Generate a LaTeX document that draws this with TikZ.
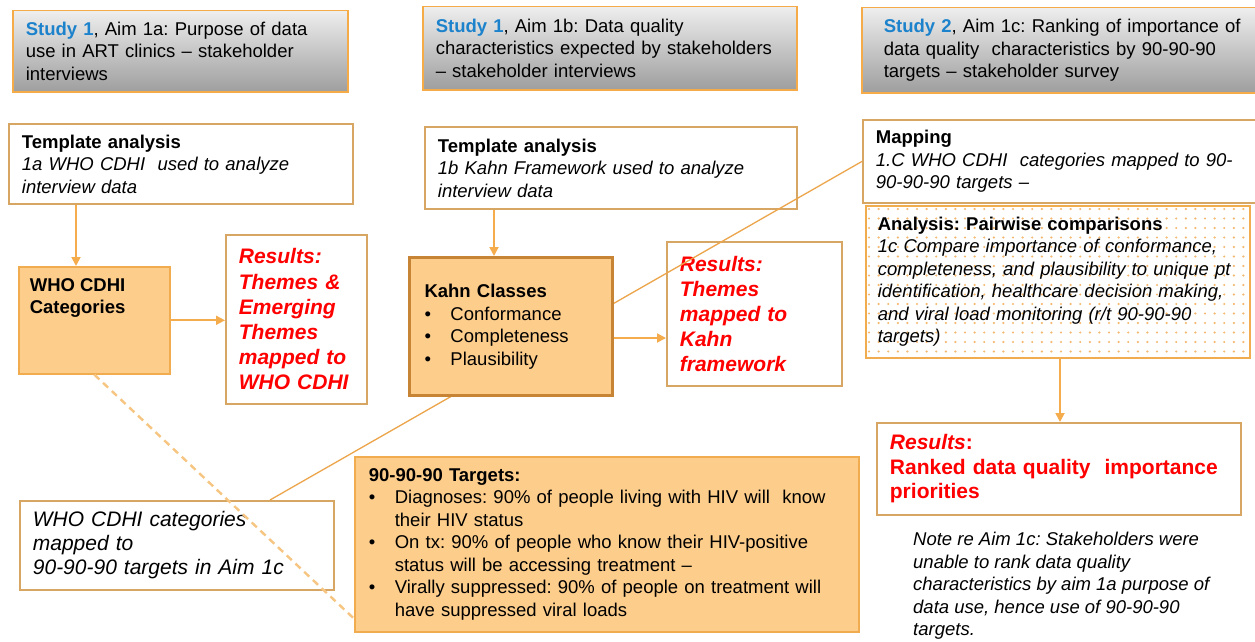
\documentclass[tikz,border=0pt]{standalone}
\usepackage{fontspec}
\setmainfont{Liberation Sans}
\usetikzlibrary{arrows.meta}

\definecolor{hdline}{RGB}{245,172,72}
\definecolor{hdtop}{RGB}{238,238,238}
\definecolor{hdbot}{RGB}{158,158,158}
\definecolor{boxtan}{RGB}{214,166,98}
\definecolor{catline}{RGB}{242,172,80}
\definecolor{catfill}{RGB}{253,205,140}
\definecolor{kahnline}{RGB}{198,132,52}
\definecolor{arrorange}{RGB}{244,172,76}
\definecolor{dotorange}{RGB}{244,184,110}
\definecolor{studyblue}{RGB}{28,130,204}
\definecolor{resred}{RGB}{255,0,0}

% bullets with a fixed indent
\newcommand{\bull}{\makebox[26pt][l]{\textbullet}}
\newcommand{\bullgap}{\hspace*{26pt}}

\frenchspacing

\begin{document}
\begin{tikzpicture}[x=1pt, y=-1pt,
  box/.style={anchor=north west, align=left, inner xsep=13pt, inner ysep=3pt,
    font=\fontsize{18.5}{22.5}\selectfont},
  header/.style={box, draw=hdline, line width=1.5pt, top color=hdtop, bottom color=hdbot},
  whitebox/.style={box, draw=boxtan, line width=1.8pt, fill=white},
  catbox/.style={box, draw=catline, line width=1.6pt, fill=catfill},
  resbox/.style={whitebox, text=resred, font=\fontsize{21}{25.2}\selectfont\bfseries\itshape},
  flow/.style={draw=arrorange, line width=1.8pt, -{Triangle[length=9pt, width=9pt]}},
  link/.style={draw=arrorange!85!brown, line width=1.3pt},
  cdhidash/.style={draw=arrorange!70, line width=2.4pt, dash pattern=on 7pt off 5pt},
]
  \useasboundingbox (0,0) rectangle (1255,642);
  \fill[white] (0,0) rectangle (1255,642);

  % headers
  \node[header, text width=309pt, minimum height=81pt] (headA) at (12,10)
    {\textcolor{studyblue}{\bfseries Study 1}, Aim 1a: Purpose of data\\use in ART clinics – stakeholder\\interviews};
  \node[header, text width=348pt, minimum height=83pt] (headB) at (422,6)
    {\textcolor{studyblue}{\bfseries Study 1}, Aim 1b: Data quality\\characteristics expected by stakeholders\\– stakeholder interviews};
  \node[header, inner xsep=22pt, text width=366pt, minimum height=85pt] (headC) at (861,7)
    {\textcolor{studyblue}{\bfseries Study 2}, Aim 1c: Ranking of importance of\\data quality~ characteristics by 90-90-90\\targets – stakeholder survey};

  % aim 1a
  \node[whitebox, text width=318pt, minimum height=80pt] (tmplA) at (8,123)
    {\textbf{Template analysis}\\\textit{1a WHO CDHI~ used to analyze}\\\textit{interview data}};
  \node[catbox, inner xsep=11pt, minimum width=151pt, minimum height=107pt] (who) at (18,266)
    {\parbox[t][84pt][t]{129pt}{\bfseries WHO CDHI\\Categories}};
  \node[resbox, text width=115pt, minimum height=169pt] (resA) at (225,234)
    {Results:\\Themes \&\\Emerging\\Themes\\mapped to\\WHO CDHI};

  % aim 1b
  \node[whitebox, text width=346pt, minimum height=82pt] (tmplB) at (424,126)
    {\textbf{Template analysis}\\\textit{1b Kahn Framework used to analyze}\\\textit{interview data}};
  \node[resbox, text width=149pt, minimum height=144pt] (resB) at (666,241)
    {Results:\\Themes\\mapped to\\Kahn\\framework};

  % aim 1c
  \node[whitebox, text width=374pt, minimum height=83pt] (mapping) at (862,119)
    {\textbf{Mapping}\\\textit{1.C WHO CDHI~ categories mapped to 90-}\\\textit{90-90-90 targets –}};
  % dotted fill behind the pairwise box
  \fill[white] (865,205) rectangle (1249,357);
  \foreach \dx in {0,...,39}
    \foreach \dy in {0,...,15}
      \fill[dotorange] (869+\dx*9.6, 209+\dy*9.5) circle (1.2pt);
  \node[box, draw=catline, line width=1.6pt, inner xsep=12pt,
    text width=360pt, minimum height=152pt] (analysis) at (865,205)
    {\textbf{Analysis: Pairwise comparisons}\\\itshape 1c Compare importance of conformance,\\completeness, and plausibility to unique pt\\identification, healthcare decision making,\\and viral load monitoring (r/t 90-90-90\\targets)};
  \node[whitebox, text=resred, font=\fontsize{21}{24.5}\selectfont\bfseries,
    text width=338pt, minimum height=92pt] (resC) at (876,422)
    {\textit{Results}:\\Ranked data quality~ importance\\priorities};
  \node[anchor=north west, align=left, inner sep=0pt,
    font=\fontsize{18.5}{22.5}\selectfont\itshape] (note) at (913,532)
    {Note re Aim 1c: Stakeholders were\\unable to rank data quality\\characteristics by aim 1a purpose of\\data use, hence use of 90-90-90\\targets.};

  % 90-90-90 targets
  \node[whitebox, font=\fontsize{21}{24}\selectfont\itshape,
    text width=288pt, minimum height=89pt] (cdhimap) at (19,500)
    {WHO CDHI categories\\mapped to\\90-90-90 targets in Aim 1c};
  \node[catbox, inner xsep=14pt, text width=476pt, minimum height=175pt] (targets) at (354,456)
    {\textbf{90-90-90 Targets:}\\
     \bull Diagnoses: 90\% of people living with HIV will~ know\\
     \bullgap their HIV status\\
     \bull On tx: 90\% of people who know their HIV-positive\\
     \bullgap status will be accessing treatment –\\
     \bull Virally suppressed: 90\% of people on treatment will\\
     \bullgap have suppressed viral loads};

  % arrows
  \coordinate (ta) at ([xshift=68pt]tmplA.south west);
  \draw[flow] (ta) -- (ta |- who.north);
  \draw[flow] (who.east) -- (who.east -| resA.west);
  \coordinate (tb) at ([xshift=70pt]tmplB.south west);
  \coordinate (ar) at ([xshift=195pt]analysis.south west);
  \draw[flow] (ar) -- (ar |- resC.north);

  % cross links
  \coordinate (lk) at ([xshift=251pt]cdhimap.north west);
  \draw[link] (lk) -- (mapping.west);
  \coordinate (tg) at ([yshift=14pt]targets.south west);
  \draw[cdhidash] (who.south) -- (tg);

  % kahn box on top of the link
  \node[box, draw=kahnline, line width=3pt, fill=catfill, inner xsep=15pt,
    text width=173pt, minimum height=138pt] (kahn) at (408,256)
    {\textbf{Kahn Classes}\\\bull Conformance\\\bull Completeness\\\bull Plausibility};
  \draw[flow] (tb) -- (tb |- kahn.north);
  \coordinate (kb) at ([yshift=-11.5pt]kahn.east);
  \draw[flow] (kb) -- (kb -| resB.west);
\end{tikzpicture}
\end{document}
